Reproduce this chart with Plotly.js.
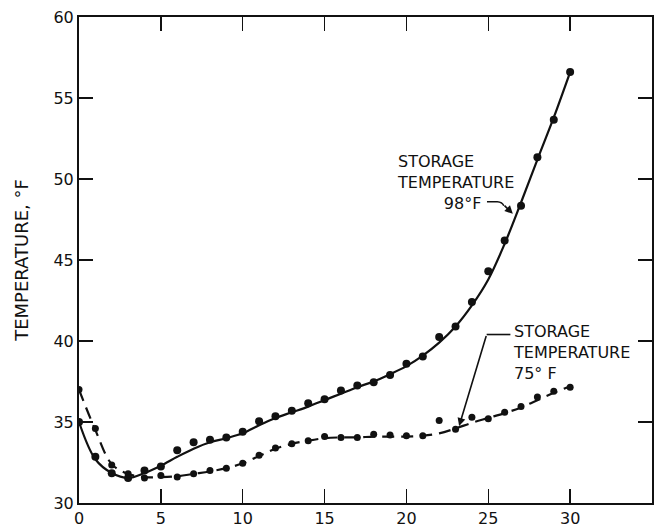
<!DOCTYPE html>
<html>
<head>
<meta charset="utf-8">
<script src="https://cdn.plot.ly/plotly-3.0.1.min.js"></script>
<style>
html,body{margin:0;padding:0;background:#fff;}
#chart{width:655px;height:529px;}
</style>
</head>
<body>
<div id="chart"></div>
<script>
// Days (x)
const days = [0,1,2,3,4,5,6,7,8,9,10,11,12,13,14,15,16,17,18,19,20,21,22,23,24,25,26,27,28,29,30];

// Observed temperatures, storage 98°F (solid curve)
const obs98 = [35.0,32.85,31.83,31.55,32.0,32.25,33.25,33.75,33.9,34.05,34.4,35.05,35.35,35.7,36.15,36.4,36.95,37.25,37.45,37.9,38.6,39.05,40.25,40.9,42.4,44.3,46.2,48.35,51.35,53.65,56.6];
// Fitted curve, storage 98°F
const curve98 = [35.0,32.7,31.85,31.55,31.85,32.3,32.85,33.35,33.75,34.0,34.3,34.8,35.25,35.6,35.95,36.35,36.75,37.15,37.5,37.95,38.45,39.1,39.9,40.9,42.2,43.8,46.0,48.55,51.2,53.8,56.6];

// Observed temperatures, storage 75°F (dashed curve)
const obs75 = [37.0,34.6,32.35,31.8,31.55,31.7,31.6,31.8,32.0,32.15,32.45,32.95,33.4,33.65,33.85,34.1,34.05,34.05,34.25,34.2,34.15,34.15,35.1,34.55,35.3,35.2,35.6,35.95,36.55,36.9,37.15];
// Fitted curve, storage 75°F
const curve75 = [37.0,34.5,32.4,31.8,31.6,31.6,31.65,31.8,31.95,32.15,32.45,32.9,33.35,33.65,33.85,34.0,34.05,34.05,34.1,34.1,34.1,34.15,34.3,34.6,34.95,35.25,35.55,35.9,36.35,36.8,37.2];

// Tick values / labels
const xTicks = [0,5,10,15,20,25,30];
const yTicks = [30,35,40,45,50,55,60];

// Label texts
const label98 = 'STORAGE<br>TEMPERATURE<br>\u00a0\u00a0\u00a0\u00a0\u00a0\u00a0\u00a0\u00a0\u00a098°F';
const label75 = 'STORAGE<br>TEMPERATURE<br>75° F';

const FONT = 'DejaVu Sans, Arial, sans-serif';

const traces = [
  {x: days, y: curve98, mode: 'lines', line: {color: '#111', width: 2.2, shape: 'spline', smoothing: 1}, hoverinfo: 'skip'},
  {x: days, y: obs98, mode: 'markers', marker: {color: '#111', size: 8}},
  {x: days, y: curve75, mode: 'lines', line: {color: '#111', width: 2.2, shape: 'spline', smoothing: 1, dash: '12px,7px'}, hoverinfo: 'skip'},
  {x: days, y: obs75, mode: 'markers', marker: {color: '#111', size: 7}}
];

const annFont = {family: FONT, size: 16, color: '#111'};

const layout = {
  width: 655, height: 529,
  margin: {l: 79, r: 3, t: 17, b: 26},
  paper_bgcolor: '#fff', plot_bgcolor: '#fff',
  showlegend: false,
  font: {family: FONT, size: 16, color: '#111'},
  xaxis: {
    range: [0, 35], tickvals: xTicks, ticktext: xTicks.map(String),
    ticks: 'inside', ticklen: 14, tickwidth: 1.5, tickcolor: '#111',
    showline: true, linecolor: '#111', linewidth: 2, mirror: 'ticks',
    showgrid: false, zeroline: false,
    tickfont: {family: FONT, size: 16, color: '#111'}
  },
  yaxis: {
    range: [30, 60], tickvals: yTicks, ticktext: yTicks.map(String),
    ticks: 'inside', ticklen: 14, tickwidth: 1.5, tickcolor: '#111',
    showline: true, linecolor: '#111', linewidth: 2, mirror: 'ticks',
    showgrid: false, zeroline: false,
    tickfont: {family: FONT, size: 16, color: '#111'},
    title: {text: 'TEMPERATURE, °F', font: {family: FONT, size: 18, color: '#111'}, standoff: 20}
  },
  annotations: [
    {text: label98, x: 19.3, y: 49.8, xref: 'x', yref: 'y', showarrow: false, xanchor: 'left', yanchor: 'middle', align: 'left', font: annFont},
    {text: label75, x: 26.4, y: 39.3, xref: 'x', yref: 'y', showarrow: false, xanchor: 'left', yanchor: 'middle', align: 'left', font: annFont},
    // arrowheads
    {x: 26.5, y: 47.85, ax: 25.9, ay: 48.45, axref: 'x', ayref: 'y', xref: 'x', yref: 'y', text: '', showarrow: true, arrowhead: 2, arrowsize: 1, arrowwidth: 1.6, arrowcolor: '#111'},
    {x: 23.22, y: 34.75, ax: 24.9, ay: 40.4, axref: 'x', ayref: 'y', xref: 'x', yref: 'y', text: '', showarrow: true, arrowhead: 2, arrowsize: 1, arrowwidth: 1.6, arrowcolor: '#111'}
  ],
  shapes: [
    {type: 'path', xref: 'x', yref: 'y', path: 'M 24.92 48.6 L 25.55 48.6 Q 25.85 48.58 25.95 48.35', line: {color: '#111', width: 1.6}},
    {type: 'line', xref: 'x', yref: 'y', x0: 24.9, y0: 40.4, x1: 26.35, y1: 40.4, line: {color: '#111', width: 1.6}}
  ]
};

Plotly.newPlot('chart', traces, layout, {displayModeBar: false, staticPlot: true});
</script>
</body>
</html>
